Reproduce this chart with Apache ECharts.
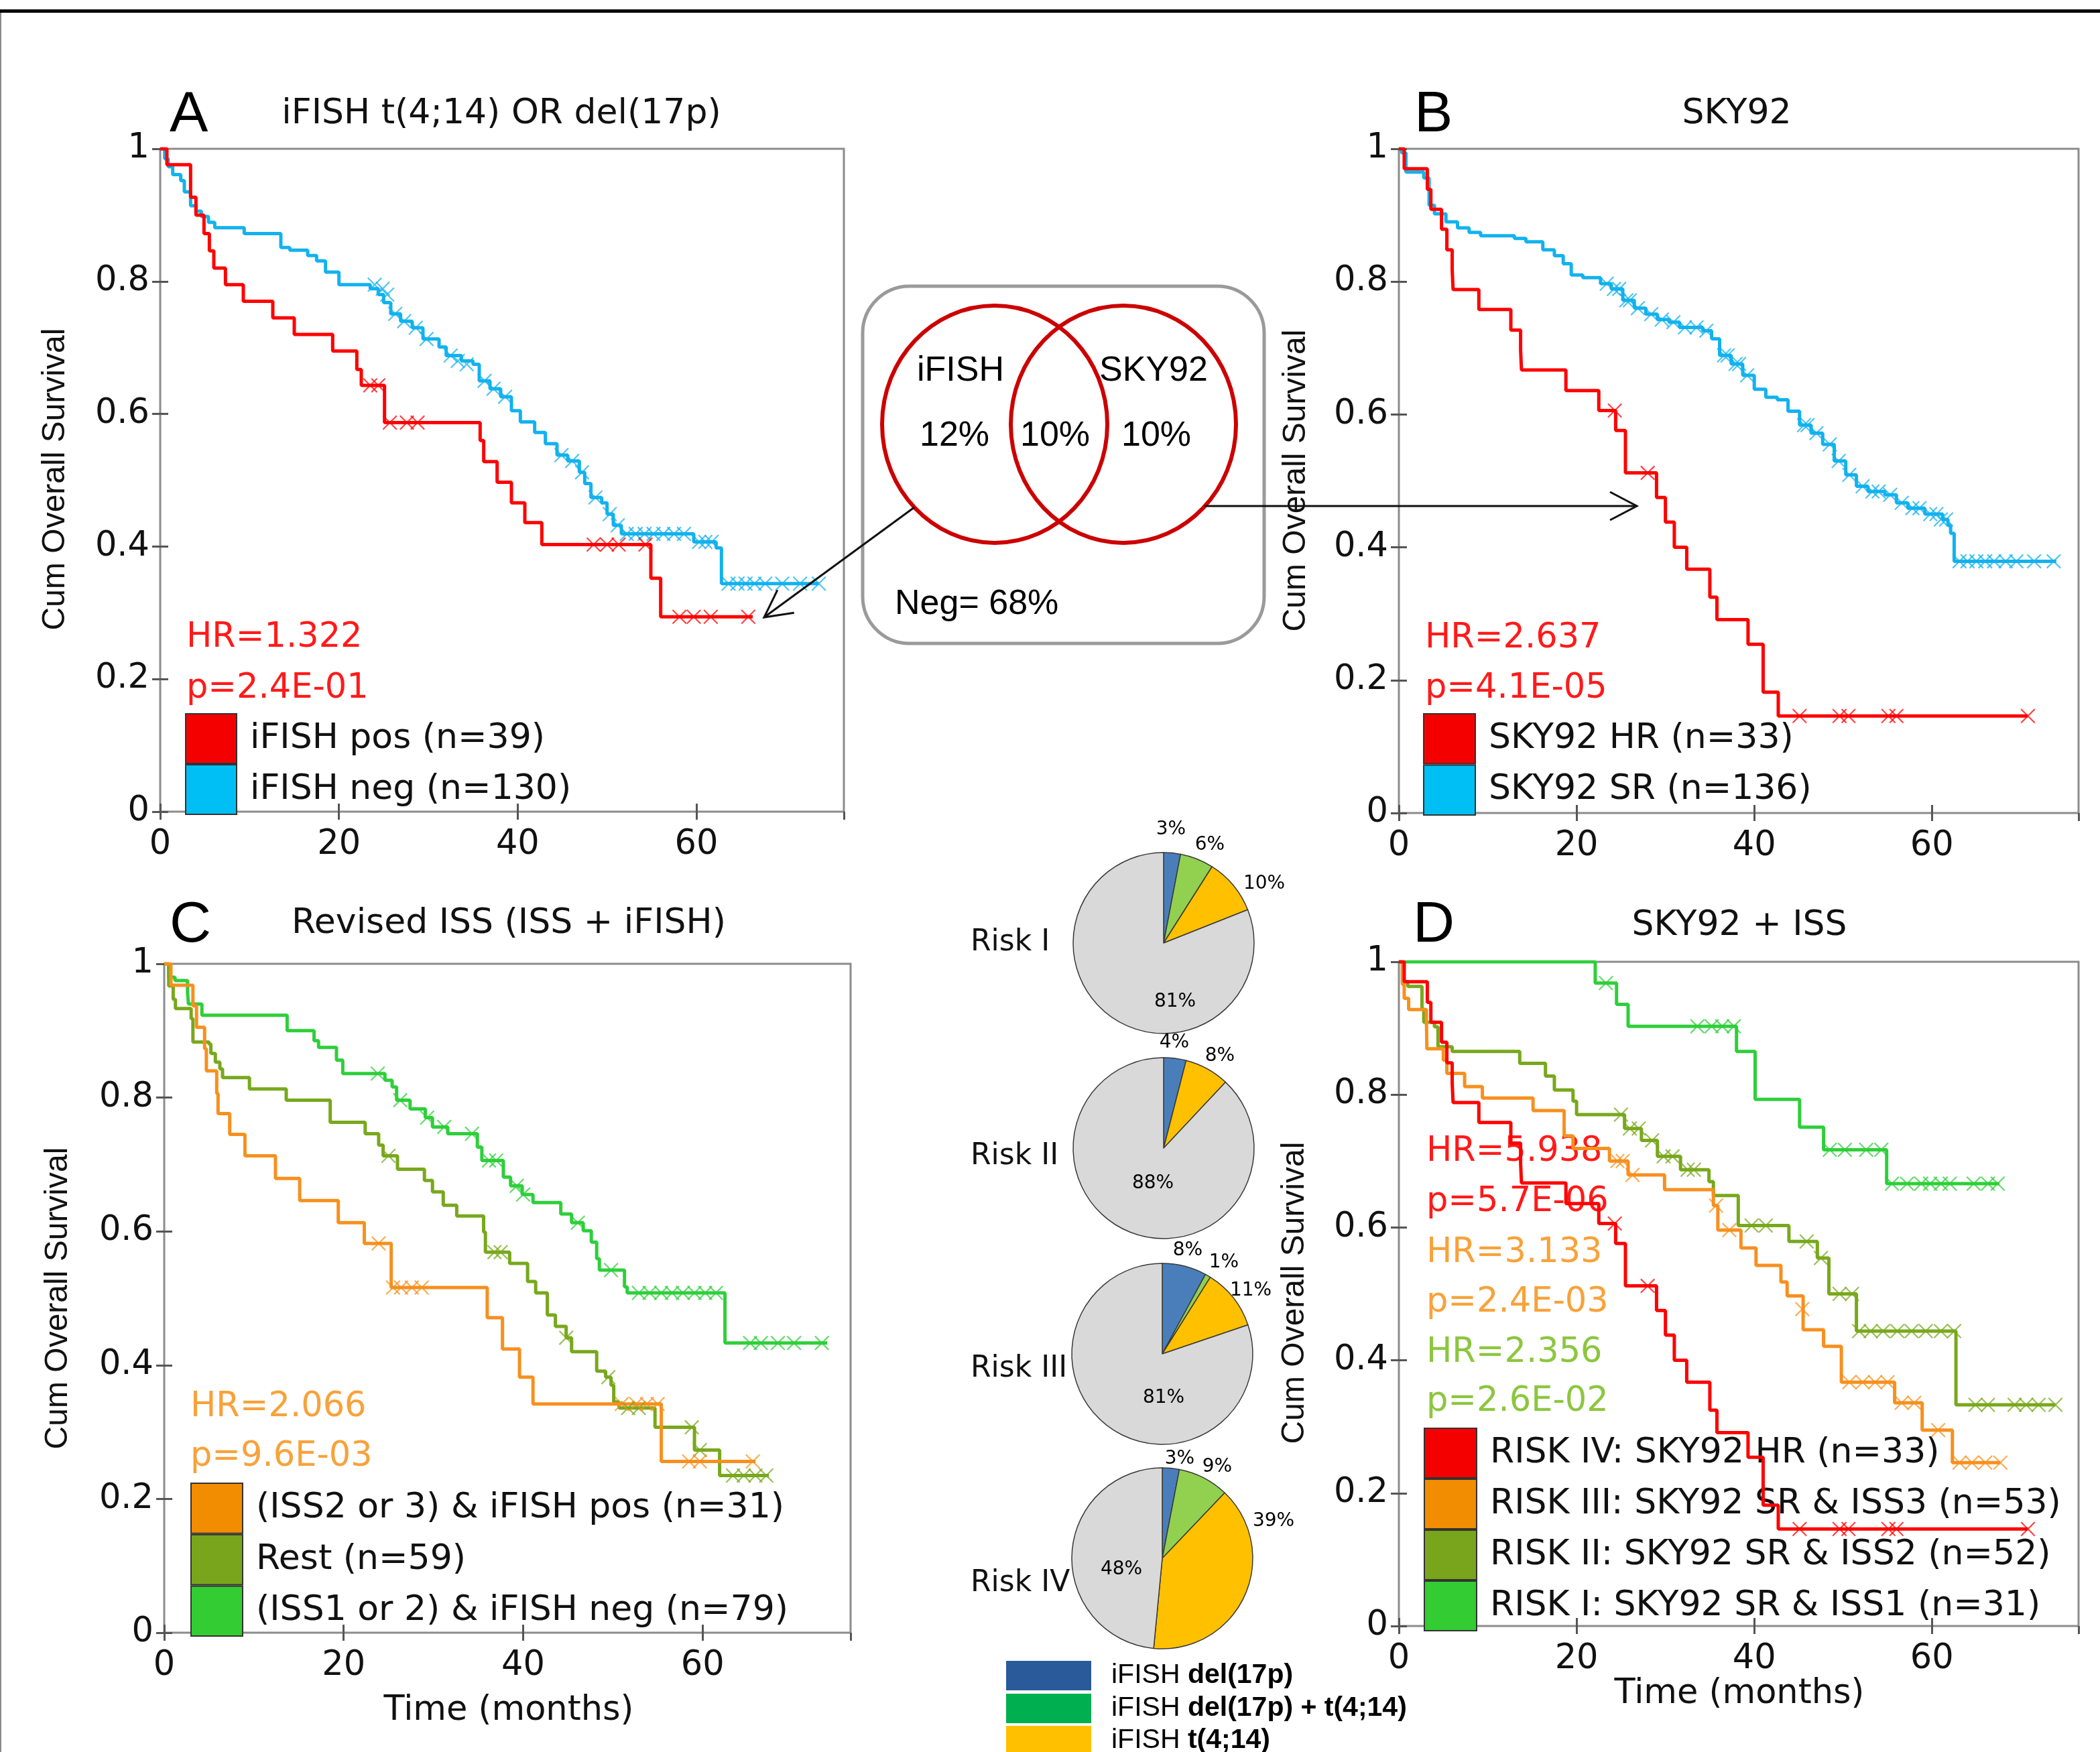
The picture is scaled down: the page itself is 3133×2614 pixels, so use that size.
<!DOCTYPE html>
<html><head><meta charset="utf-8">
<script src="https://cdn.jsdelivr.net/npm/echarts/dist/echarts.min.js"></script>
<style>html,body{margin:0;padding:0;background:#fff}#c{width:3133px;height:2614px}</style>
</head><body><div id="c"></div>
<script>
// ---------------- DATA ----------------
const xTickValues = [0, 20, 40, 60];
const yTickValues = [0, 0.2, 0.4, 0.6, 0.8, 1];
const yTickLabels = ['0', '0.2', '0.4', '0.6', '0.8', '1'];
const xMax = 76.5;

const panelTitles = ['iFISH t(4;14) OR del(17p)', 'SKY92', 'Revised ISS (ISS + iFISH)', 'SKY92 + ISS'];
const panelLetters = ['A', 'B', 'C', 'D'];
const yAxisTitle = 'Cum Overall Survival';
const xAxisTitle = 'Time (months)';

// Panel A
const aPosSteps = [[0,1],[0.75,0.976],[3.4,0.927],[4.0,0.90],[4.9,0.872],[5.5,0.846],[6.0,0.82],[7.3,0.795],[9.3,0.77],[12.6,0.745],[15.0,0.72],[19.3,0.695],[22.0,0.667],[22.5,0.643],[25.1,0.587],[35.8,0.56],[36.2,0.528],[37.7,0.497],[39.3,0.466],[40.8,0.436],[42.7,0.403],[54.9,0.352],[56.0,0.294],[66.3,0.294]];
const aPosCens = [[23.5,0.643],[24.4,0.643],[25.7,0.587],[27.6,0.587],[28.8,0.587],[48.5,0.403],[50.0,0.403],[51.3,0.403],[54.3,0.403],[58.1,0.294],[59.7,0.294],[61.6,0.294],[65.8,0.294]];
const aNegSteps = [[0,1],[0.5,0.985],[0.9,0.973],[1.4,0.961],[2.3,0.952],[2.7,0.935],[3.4,0.914],[4.0,0.906],[4.6,0.898],[5.4,0.889],[6.1,0.881],[9.4,0.872],[13.5,0.851],[14.5,0.847],[16.5,0.839],[17.5,0.831],[18.5,0.814],[20.0,0.795],[23.5,0.789],[24.4,0.78],[25.0,0.768],[25.8,0.751],[26.9,0.74],[28.2,0.73],[29.4,0.713],[31.2,0.701],[32.0,0.688],[33.7,0.68],[35.0,0.675],[35.7,0.65],[36.9,0.638],[38.1,0.626],[39.3,0.605],[40.3,0.588],[41.9,0.572],[43.1,0.555],[44.4,0.538],[45.6,0.529],[46.9,0.512],[47.5,0.495],[48.2,0.474],[49.4,0.466],[50.0,0.449],[50.7,0.432],[51.6,0.419],[59.7,0.407],[62.2,0.398],[62.8,0.344],[73.7,0.344]];
const aNegCens = [[24.0,0.795],[24.9,0.789],[25.4,0.78],[26.3,0.751],[27.3,0.74],[28.6,0.73],[29.8,0.713],[32.5,0.688],[33.3,0.68],[34.3,0.675],[36.3,0.65],[37.3,0.638],[38.6,0.626],[44.9,0.538],[46.1,0.529],[47.2,0.512],[48.7,0.474],[50.3,0.449],[51.2,0.432],[52.2,0.419],[53.2,0.419],[54.2,0.419],[55.2,0.419],[56.3,0.419],[57.5,0.419],[58.6,0.419],[60.3,0.407],[61.0,0.407],[61.7,0.407],[63.6,0.344],[64.6,0.344],[65.5,0.344],[66.5,0.344],[67.7,0.344],[69.6,0.344],[71.6,0.344],[73.7,0.344]];

// SKY92 high risk (panel B and RISK IV of panel D)
const sky92HRSteps = [[0,1],[0.6,0.970],[3.2,0.939],[3.6,0.909],[4.8,0.879],[5.4,0.848],[6.0,0.818],[6.1,0.788],[9.0,0.758],[12.6,0.727],[13.7,0.697],[13.8,0.667],[18.8,0.636],[22.5,0.606],[24.4,0.576],[25.5,0.512],[29.0,0.475],[30.0,0.438],[31.0,0.400],[32.4,0.367],[35.0,0.325],[35.8,0.291],[39.3,0.254],[41.0,0.182],[42.7,0.146],[70.8,0.146]];
const sky92HRCens = [[24.3,0.606],[28.0,0.512],[45.1,0.146],[49.6,0.146],[50.6,0.146],[55.1,0.146],[56.0,0.146],[70.8,0.146]];
const sky92SRSteps = [[0,1],[0.3,0.994],[0.8,0.965],[2.8,0.956],[3.4,0.915],[4.0,0.902],[5.3,0.890],[6.6,0.881],[7.9,0.874],[9.2,0.869],[13.0,0.865],[14.3,0.860],[16.2,0.848],[17.5,0.839],[18.5,0.827],[19.4,0.810],[20.7,0.806],[22.7,0.797],[23.9,0.789],[25.2,0.772],[26.5,0.760],[27.8,0.751],[29.1,0.743],[30.4,0.739],[31.6,0.731],[34.2,0.726],[35.2,0.714],[36.1,0.689],[37.4,0.676],[38.7,0.659],[40.0,0.638],[41.3,0.626],[42.6,0.622],[43.8,0.605],[45.1,0.584],[46.4,0.572],[47.7,0.555],[49.0,0.530],[50.3,0.509],[51.5,0.492],[52.8,0.484],[54.7,0.479],[56.0,0.467],[57.3,0.459],[59.2,0.450],[61.2,0.442],[61.8,0.433],[62.1,0.421],[62.5,0.379],[74.0,0.379]];
const sky92SRCens = [[23.4,0.797],[24.2,0.789],[24.8,0.789],[25.6,0.772],[26.0,0.772],[26.9,0.760],[28.4,0.751],[29.6,0.743],[30.9,0.739],[32.2,0.731],[33.5,0.731],[34.6,0.726],[36.6,0.689],[37.0,0.689],[37.9,0.676],[38.3,0.676],[39.2,0.659],[45.6,0.584],[46.0,0.584],[47.0,0.572],[48.5,0.555],[49.5,0.530],[50.7,0.509],[52.2,0.492],[53.3,0.484],[54.0,0.484],[55.3,0.479],[56.6,0.467],[57.8,0.459],[58.6,0.459],[59.8,0.450],[60.5,0.450],[61.0,0.442],[61.6,0.442],[63.1,0.379],[64.0,0.379],[65.0,0.379],[66.0,0.379],[67.0,0.379],[68.3,0.379],[69.5,0.379],[71.5,0.379],[73.7,0.379]];

// Panel C
const cPosSteps = [[0,1],[0.75,0.968],[3.2,0.937],[3.6,0.905],[4.5,0.873],[4.7,0.840],[5.85,0.806],[6.0,0.776],[7.3,0.745],[9.0,0.713],[12.4,0.679],[15.1,0.646],[19.4,0.613],[22.3,0.582],[25.3,0.516],[36.0,0.471],[37.7,0.424],[39.6,0.382],[41.1,0.342],[55.4,0.256],[65.9,0.256]];
const cPosCens = [[23.9,0.582],[25.5,0.516],[26.4,0.516],[27.6,0.516],[28.7,0.516],[51.0,0.342],[52.6,0.342],[53.8,0.342],[55.0,0.342],[58.5,0.256],[59.7,0.256],[65.6,0.256]];
const cRestSteps = [[0,1],[0.5,0.967],[1.0,0.947],[1.25,0.933],[3.0,0.918],[3.2,0.883],[5.0,0.880],[5.2,0.866],[5.7,0.853],[6.2,0.843],[6.5,0.830],[9.5,0.813],[13.6,0.796],[18.5,0.763],[22.4,0.746],[23.9,0.729],[24.4,0.713],[26.0,0.693],[29.0,0.676],[29.9,0.659],[31.1,0.639],[32.6,0.623],[35.6,0.599],[35.8,0.569],[38.5,0.552],[40.5,0.525],[41.4,0.508],[42.7,0.475],[43.6,0.458],[44.8,0.441],[45.4,0.420],[48.2,0.391],[49.2,0.382],[49.8,0.370],[50.1,0.345],[50.7,0.336],[54.7,0.307],[59.1,0.273],[61.9,0.235],[67.4,0.235]];
const cRestCens = [[25.0,0.713],[36.8,0.569],[37.5,0.569],[44.8,0.441],[49.5,0.382],[51.7,0.336],[52.9,0.336],[58.8,0.307],[59.7,0.273],[63.4,0.235],[64.6,0.235],[65.9,0.235],[67.1,0.235]];
const cNegSteps = [[0,1],[0.5,0.98],[1.2,0.975],[2.6,0.957],[2.7,0.94],[4.2,0.923],[13.7,0.90],[16.7,0.885],[17.2,0.875],[19.2,0.856],[19.9,0.836],[24.6,0.826],[25.4,0.816],[25.9,0.796],[27.4,0.783],[29.1,0.770],[29.9,0.756],[31.6,0.746],[34.9,0.726],[35.4,0.706],[37.8,0.681],[38.6,0.668],[39.9,0.655],[41.1,0.643],[44.2,0.626],[45.4,0.613],[46.7,0.601],[47.6,0.584],[48.2,0.559],[48.5,0.542],[51.3,0.517],[51.6,0.508],[62.5,0.433],[73.9,0.433]];
const cNegCens = [[23.8,0.836],[26.3,0.796],[29.3,0.770],[31.2,0.756],[34.3,0.746],[36.2,0.706],[37.0,0.706],[39.3,0.668],[40.0,0.655],[46.1,0.613],[49.8,0.542],[52.9,0.508],[54.1,0.508],[55.4,0.508],[56.6,0.508],[57.8,0.508],[59.1,0.508],[60.3,0.508],[61.5,0.508],[65.3,0.433],[66.5,0.433],[68.4,0.433],[70.2,0.433],[73.3,0.433]];

// Panel D
const dRisk3Steps = [[0,1],[0.4,0.966],[0.6,0.945],[1.1,0.928],[3.1,0.913],[3.15,0.869],[5.0,0.852],[5.4,0.832],[7.4,0.812],[9.4,0.795],[15.1,0.776],[18.6,0.738],[19.6,0.719],[23.7,0.700],[25.8,0.679],[29.9,0.657],[35.4,0.633],[35.9,0.596],[38.5,0.569],[40.2,0.543],[43.0,0.518],[43.7,0.497],[45.5,0.446],[47.8,0.421],[49.8,0.367],[55.8,0.336],[58.9,0.295],[62.3,0.246],[67.7,0.246]];
const dRisk3Cens = [[24.6,0.700],[25.2,0.700],[26.3,0.679],[35.7,0.633],[37.2,0.596],[45.4,0.477],[50.7,0.367],[52.2,0.367],[53.6,0.367],[55.0,0.367],[56.6,0.336],[58.0,0.336],[60.7,0.295],[63.1,0.246],[64.5,0.246],[66.0,0.246],[67.7,0.246]];
const dRisk2Steps = [[0,1],[0.4,0.970],[1.0,0.963],[2.6,0.929],[2.8,0.909],[4.0,0.902],[4.4,0.872],[6.0,0.865],[13.6,0.847],[16.5,0.828],[17.5,0.807],[19.6,0.790],[20.0,0.770],[25.4,0.749],[27.3,0.731],[29.1,0.707],[31.7,0.687],[34.9,0.669],[35.4,0.648],[38.2,0.603],[43.9,0.579],[47.1,0.554],[48.4,0.500],[51.5,0.444],[62.7,0.333],[73.9,0.333]];
const dRisk2Cens = [[25.0,0.770],[26.0,0.749],[27.0,0.749],[28.5,0.731],[29.8,0.707],[30.8,0.707],[32.5,0.687],[33.2,0.687],[39.7,0.603],[41.3,0.603],[45.9,0.579],[47.5,0.554],[49.6,0.500],[51.0,0.500],[51.8,0.444],[53.1,0.444],[54.5,0.444],[56.1,0.444],[57.7,0.444],[59.3,0.444],[61.0,0.444],[62.5,0.444],[64.9,0.333],[66.3,0.333],[69.3,0.333],[70.6,0.333],[72.0,0.333],[73.9,0.333]];
const dRisk1Steps = [[0,1],[22.1,0.968],[24.5,0.936],[25.8,0.903],[38.0,0.865],[40.1,0.793],[45.1,0.751],[47.8,0.717],[54.9,0.666],[67.6,0.666]];
const dRisk1Cens = [[23.3,0.968],[33.6,0.903],[35.2,0.903],[36.4,0.903],[37.7,0.903],[48.5,0.717],[50.2,0.717],[52.6,0.717],[54.3,0.717],[55.5,0.666],[57.2,0.666],[58.8,0.666],[59.8,0.666],[61.0,0.666],[62.0,0.666],[64.7,0.666],[66.3,0.666],[67.4,0.666]];

// Hazard ratio / p texts
const aStats = ['HR=1.322', 'p=2.4E-01'];
const bStats = ['HR=2.637', 'p=4.1E-05'];
const cStats = ['HR=2.066', 'p=9.6E-03'];
const dStats = ['HR=5.938', 'p=5.7E-06', 'HR=3.133', 'p=2.4E-03', 'HR=2.356', 'p=2.6E-02'];

// Venn
const vennSetNames = ['iFISH', 'SKY92'];
const vennPercents = ['12%', '10%', '10%'];
const vennNeg = 'Neg= 68%';

// Pies
const pieGroups = ['Risk I', 'Risk II', 'Risk III', 'Risk IV'];
const pieCategories = ['iFISH del(17p)', 'iFISH del(17p) + t(4;14)', 'iFISH t(4;14)', 'neg'];
const pieRisk1 = [3, 6, 10, 81];
const pieRisk2 = [4, 0, 8, 88];
const pieRisk3 = [8, 1, 11, 81];
const pieRisk4 = [3, 9, 39, 48];

// ---------------- STYLE / LAYOUT ----------------
const FM = 'DejaVu Sans';
const FA = 'Liberation Sans';
const RED = '#ff0000', BLUE = '#12b2ee', ORANGE = '#f7901e', OLIVE = '#78a81c', GREEN = '#2ecf3a';
const XMARK = 'path://M0,0.7L0.7,0L5,4.3L9.3,0L10,0.7L5.7,5L10,9.3L9.3,10L5,5.7L0.7,10L0,9.3L4.3,5Z';
const MAIN_FS = 52;

const panels = [
  {grid:{left:239, top:222, width:1020, height:989}, title:[748,170], letter:[253,172], ytitle:[83,715],
   legend:{left:276, top:1064, w:76, h:74}, stats:{x:278, y:[952,1028], colors:['#ff1a1a','#ff1a1a']}, statsText:aStats},
  {grid:{left:2087, top:222, width:1014, height:991}, title:[2591,170], letter:[2110,172], ytitle:[1934,717],
   legend:{left:2123, top:1064, w:77, h:74.5}, stats:{x:2126, y:[953,1028], colors:['#ff1a1a','#ff1a1a']}, statsText:bStats},
  {grid:{left:245, top:1438, width:1024, height:998}, title:[759,1378], letter:[253,1381], ytitle:[87,1937], xtitle:[759,2553],
   legend:{left:284, top:2212, w:77, h:74.7}, stats:{x:284, y:[2100,2174], colors:['#f8a23a','#f8a23a']}, statsText:cStats},
  {grid:{left:2087, top:1435, width:1014, height:991}, title:[2595,1381], letter:[2108,1381], ytitle:[1932,1929], xtitle:[2595,2528],
   legend:{left:2124, top:2130, w:78, h:74}, stats:{x:2128, y:[1719,1794,1870,1944,2019,2092], colors:['#ff1a1a','#ff1a1a','#f8a23a','#f8a23a','#8cc63f','#8cc63f']}, statsText:dStats}
];

const curves = [
  {panel:0, name:'iFISH neg (n=130)', steps:aNegSteps, cens:aNegCens, color:BLUE, box:'#00bff5'},
  {panel:0, name:'iFISH pos (n=39)', steps:aPosSteps, cens:aPosCens, color:RED, box:'#f50000'},
  {panel:1, name:'SKY92 SR (n=136)', steps:sky92SRSteps, cens:sky92SRCens, color:BLUE, box:'#00bff5'},
  {panel:1, name:'SKY92 HR (n=33)', steps:sky92HRSteps, cens:sky92HRCens, color:RED, box:'#f50000'},
  {panel:2, name:'(ISS1 or 2) & iFISH neg (n=79)', steps:cNegSteps, cens:cNegCens, color:GREEN, box:'#33cc33'},
  {panel:2, name:'Rest (n=59)', steps:cRestSteps, cens:cRestCens, color:OLIVE, box:'#78a51c'},
  {panel:2, name:'(ISS2 or 3) & iFISH pos (n=31)', steps:cPosSteps, cens:cPosCens, color:ORANGE, box:'#f28c00'},
  {panel:3, name:'RISK I: SKY92 SR & ISS1 (n=31)', steps:dRisk1Steps, cens:dRisk1Cens, color:GREEN, box:'#33cc33'},
  {panel:3, name:'RISK II: SKY92 SR & ISS2 (n=52)', steps:dRisk2Steps, cens:dRisk2Cens, color:OLIVE, box:'#78a51c'},
  {panel:3, name:'RISK III: SKY92 SR & ISS3 (n=53)', steps:dRisk3Steps, cens:dRisk3Cens, color:ORANGE, box:'#f28c00'},
  {panel:3, name:'RISK IV: SKY92 HR (n=33)', steps:sky92HRSteps, cens:sky92HRCens, color:RED, box:'#f50000'}
];
const legendOrder = [
  ['iFISH pos (n=39)', 'iFISH neg (n=130)'],
  ['SKY92 HR (n=33)', 'SKY92 SR (n=136)'],
  ['(ISS2 or 3) & iFISH pos (n=31)', 'Rest (n=59)', '(ISS1 or 2) & iFISH neg (n=79)'],
  ['RISK IV: SKY92 HR (n=33)', 'RISK III: SKY92 SR & ISS3 (n=53)', 'RISK II: SKY92 SR & ISS2 (n=52)', 'RISK I: SKY92 SR & ISS1 (n=31)']
];

const pieValues = [pieRisk1, pieRisk2, pieRisk3, pieRisk4];
const pieCenters = [[1736,1407],[1736,1713],[1734,2020],[1734,2325]];
const pieRadius = 135;
const pieSliceColors = ['#4a7ebb', '#92d050', '#ffc000', '#d9d9d9'];
const pieLegendColors = ['#2a5a9a', '#00b050', '#ffc000'];
const pieLegendTops = [2478, 2527, 2575];
const pieLabelOffsets = [
  [[11,-169],[69,-146],[150,-88],[17,88]],
  [[16,-157],[0,0],[84,-137],[-16,53]],
  [[38,-154],[92,-136],[132,-94],[2,66]],
  [[26,-148],[82,-136],[166,-55],[-61,17]]
];
const pieGroupLabelPos = [[1448,1407],[1448,1726],[1448,2043],[1448,2363]];

// ---------------- BUILD ----------------
const chart = echarts.init(document.getElementById('c'), null, {renderer:'canvas', width:3133, height:2614});

const xLabel = v => xTickValues.some(t => Math.abs(t - v) < 1e-6) ? String(Math.round(v)) : '';
const yLabel = v => { const i = yTickValues.findIndex(t => Math.abs(t - v) < 1e-6); return i >= 0 ? yTickLabels[i] : ''; };

const grids = [], xAxes = [], yAxes = [], series = [], legends = [], graphics = [];
const tickStyle = {show:true, inside:true, length:12, lineStyle:{color:'#555', width:3}};
const txt = (t, x, y, font, fill, al, extra) => Object.assign({type:'text', z:10, x:x, y:y,
  style:{text:t, font:font, fill:fill, align:al, verticalAlign:'middle', textAlign:al, textVerticalAlign:'middle'}}, extra || {});

panels.forEach((p, i) => {
  grids.push(Object.assign({show:true, borderColor:'#8c8c8c', borderWidth:3, backgroundColor:'rgba(0,0,0,0)', containLabel:false, outerBoundsMode:'none'}, p.grid));
  const xBase = {type:'value', gridIndex:i, min:0, max:xMax, interval:20, splitLine:{show:false}, axisLine:{show:false}, axisTick:tickStyle};
  xAxes.push(Object.assign({}, xBase, {position:'bottom', axisLabel:{show:true, margin:24, fontSize:51, fontFamily:FM, color:'#111', formatter:xLabel, showMaxLabel:false}}));
  xAxes.push(Object.assign({}, xBase, {position:'top', axisLabel:{show:false}}));
  const yBase = {type:'value', gridIndex:i, min:0, max:1, interval:0.2, splitLine:{show:false}, axisLine:{show:false}, axisTick:tickStyle};
  yAxes.push(Object.assign({}, yBase, {position:'left', axisLabel:{show:true, margin:16, fontSize:51, fontFamily:FM, color:'#111', formatter:yLabel}}));
  yAxes.push(Object.assign({}, yBase, {position:'right', axisLabel:{show:false}}));

  const names = legendOrder[i];
  legends.push({
    orient:'vertical', left:p.legend.left, top:p.legend.top, padding:0, itemGap:0,
    itemWidth:p.legend.w, itemHeight:p.legend.h, icon:'rect', selectedMode:false, z:1,
    data: names.map(n => { const c = curves.find(cc => cc.name === n); return {name:n, itemStyle:{color:c.box, borderColor:'#333', borderWidth:2}}; }),
    textStyle:{fontFamily:FM, fontSize:MAIN_FS, color:'#111', padding:[0,0,0,15]}
  });

  graphics.push(txt(panelTitles[i], p.title[0], p.title[1], MAIN_FS + 'px "DejaVu Sans"', '#111', 'center'));
  graphics.push(txt(panelLetters[i], p.letter[0], p.letter[1], '86px "Liberation Sans"', '#000', 'left'));
  graphics.push(txt(yAxisTitle, p.ytitle[0], p.ytitle[1], '48px "Liberation Sans"', '#111', 'center', {rotation:Math.PI/2}));
  if (p.xtitle) graphics.push(txt(xAxisTitle, p.xtitle[0], p.xtitle[1], '51px "DejaVu Sans"', '#111', 'center'));
  p.statsText.forEach((t, k) => graphics.push(txt(t, p.stats.x, p.stats.y[k], '51px "DejaVu Sans"', p.stats.colors[k], 'left', {z:0})));
});

curves.forEach(c => {
  series.push({type:'line', name:c.name, xAxisIndex:2*c.panel, yAxisIndex:2*c.panel, data:c.steps, step:'end',
    symbol:'none', showSymbol:false, lineStyle:{color:c.color, width:5}, itemStyle:{color:c.box}, z:3, silent:true, animation:false});
  series.push({type:'scatter', name:c.name + ' (censored)', xAxisIndex:2*c.panel, yAxisIndex:2*c.panel, data:c.cens,
    symbol:XMARK, symbolSize:22, itemStyle:{color:c.color, opacity:0.75}, z:4, silent:true, animation:false});
});

pieValues.forEach((vals, pi) => {
  const items = [], offs = [];
  vals.forEach((v, k) => {
    if (v > 0) {
      items.push({name:pieCategories[k], value:v, itemStyle:{color:pieSliceColors[k]}});
      offs.push(pieLabelOffsets[pi][k]);
    }
  });
  const cen = pieCenters[pi];
  series.push({type:'pie', center:cen, radius:pieRadius, startAngle:90, clockwise:true, avoidLabelOverlap:false,
    data:items, silent:true, animation:false,
    itemStyle:{borderColor:'#3a3a3a', borderWidth:1.5},
    label:{show:true, position:'inside', formatter:'{c}%', fontSize:28, fontFamily:FM, color:'#000'},
    labelLine:{show:false},
    labelLayout: prm => { const o = offs[prm.dataIndex]; return {x:cen[0] + o[0], y:cen[1] + o[1], align:'center', verticalAlign:'middle'}; },
    emphasis:{disabled:true}
  });
  graphics.push(txt(pieGroups[pi], pieGroupLabelPos[pi][0], pieGroupLabelPos[pi][1], '44px "DejaVu Sans"', '#111', 'left'));
});

// pie legend (one component per entry so nothing wraps at the page bottom)
pieCategories.slice(0, 3).forEach((n, k) => {
  legends.push({
    orient:'vertical', left:1501, top:pieLegendTops[k], padding:0, itemGap:0, itemWidth:127, itemHeight:44, icon:'rect', selectedMode:false,
    data:[{name:n, itemStyle:{color:pieLegendColors[k], borderWidth:0}}],
    formatter: nm => '{a|iFISH }{b|' + nm.slice(6) + '}',
    textStyle:{fontFamily:FA, fontSize:41, color:'#000', padding:[0,0,0,25],
      rich:{a:{fontFamily:FA, fontSize:41, fontWeight:'normal', color:'#000'}, b:{fontFamily:FA, fontSize:41, fontWeight:'bold', color:'#000'}}}
  });
});

// Frame
graphics.push({type:'rect', z:20, shape:{x:0, y:14, width:3133, height:5}, style:{fill:'#000'}});
graphics.push({type:'rect', z:20, shape:{x:0, y:19, width:2, height:2600}, style:{fill:'#8a8a8a'}});

// Venn diagram
graphics.push({type:'rect', z:5, shape:{x:1287, y:427, width:599, height:533, r:70}, style:{fill:'none', stroke:'#9a9a9a', lineWidth:5}});
graphics.push({type:'ellipse', z:6, shape:{cx:1484, cy:633, rx:168, ry:177}, style:{fill:'none', stroke:'#cc0000', lineWidth:6}});
graphics.push({type:'ellipse', z:6, shape:{cx:1676, cy:633, rx:168, ry:177}, style:{fill:'none', stroke:'#cc0000', lineWidth:6}});
const VF = '52px "Liberation Sans"';
graphics.push(txt(vennSetNames[0], 1433, 554, VF, '#000', 'center'));
graphics.push(txt(vennSetNames[1], 1721, 554, VF, '#000', 'center'));
graphics.push(txt(vennPercents[0], 1424, 651, VF, '#000', 'center'));
graphics.push(txt(vennPercents[1], 1574, 651, VF, '#000', 'center'));
graphics.push(txt(vennPercents[2], 1725, 651, VF, '#000', 'center'));
graphics.push(txt(vennNeg, 1335, 902, VF, '#000', 'left'));

// Arrows
function arrow(x0, y0, x1, y1) {
  const dx = x1 - x0, dy = y1 - y0, L = Math.hypot(dx, dy), ux = dx / L, uy = dy / L, nx = -uy, ny = ux;
  const hl = 40, hw = 21, bx = x1 - ux * hl, by = y1 - uy * hl;
  graphics.push({type:'line', z:8, shape:{x1:x0, y1:y0, x2:x1, y2:y1}, style:{stroke:'#111', lineWidth:3}});
  graphics.push({type:'polyline', z:8, shape:{points:[[bx + nx * hw, by + ny * hw], [x1, y1], [bx - nx * hw, by - ny * hw]]}, style:{stroke:'#111', lineWidth:3, fill:'none'}});
}
arrow(1364, 757, 1140, 921);
arrow(1797, 755, 2442, 755);

chart.setOption({
  animation:false,
  backgroundColor:'#ffffff',
  textStyle:{fontFamily:FM},
  grid:grids, xAxis:xAxes, yAxis:yAxes, legend:legends, series:series, graphic:graphics
});
</script></body></html>
